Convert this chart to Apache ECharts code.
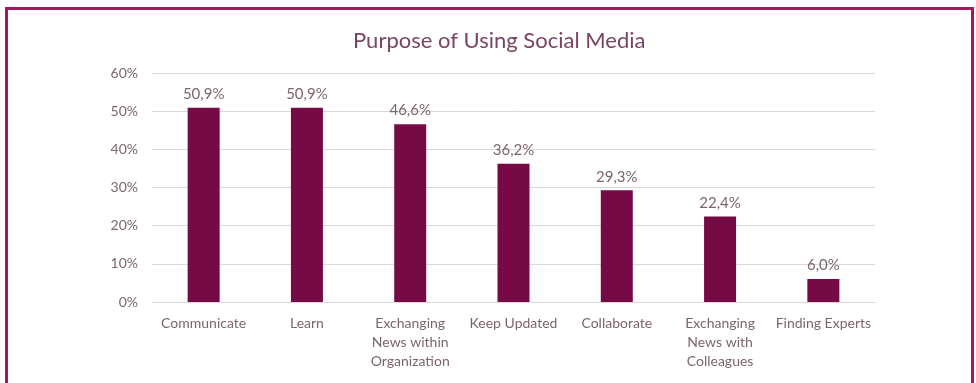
<!DOCTYPE html>
<html lang="en">
  <head>
    <meta charset="utf-8" />
    <title>Purpose of Using Social Media</title>
    <script src="https://cdn.jsdelivr.net/npm/echarts@6/dist/echarts.min.js"></script>
  </head>
  <style>
    * {
      margin: 0;
      padding: 0;
    }

    body {
      width: 976px;
      height: 383px;
      background: #fff;
      position: relative;
      overflow: hidden;
    }

    .frame {
      position: absolute;
      left: 5px;
      top: 7px;
      width: 963px;
      height: 390px;
      border: 3px solid #a2195f;
      box-sizing: content-box;
    }

    #main {
      position: absolute;
      left: 0;
      top: 0;
      width: 976px;
      height: 383px;
    }
  </style>
  <body>
    <div class="frame"></div>
    <div id="main"></div>
    <script>
      const categories = [
        "Communicate",
        "Learn",
        "Exchanging\nNews within\nOrganization",
        "Keep Updated",
        "Collaborate",
        "Exchanging\nNews with\nColleagues",
        "Finding Experts",
      ];
      const values = [50.9, 50.9, 46.6, 36.2, 29.3, 22.4, 6.0];
      const yTicks = [0, 10, 20, 30, 40, 50, 60];

      const textColor = "#7d6470";
      const font = "Lato, 'Open Sans', sans-serif";

      const chart = echarts.init(document.getElementById("main"), null, {
        renderer: "canvas",
      });

      const option = {
        animation: false,
        title: {
          text: "Purpose of Using Social Media",
          left: 348,
          top: 25,
          textStyle: {
            color: "#7a4563",
            fontFamily: font,
            fontSize: 22,
            fontWeight: "normal",
          },
        },
        grid: {
          left: 152,
          right: 101,
          top: 73,
          bottom: 81,
        },
        xAxis: {
          type: "category",
          data: categories,
          axisTick: { show: false },
          axisLine: { lineStyle: { color: "#d9d9d9" } },
          axisLabel: {
            color: textColor,
            fontFamily: font,
            fontSize: 14,
            lineHeight: 19,
            margin: 12,
            interval: 0,
          },
        },
        yAxis: {
          type: "value",
          min: yTicks[0],
          max: yTicks[yTicks.length - 1],
          interval: 10,
          axisLine: { show: false },
          axisTick: { show: false },
          splitLine: { lineStyle: { color: "#d9d9d9" } },
          axisLabel: {
            color: textColor,
            fontFamily: font,
            fontSize: 14,
            margin: 14,
            formatter: (v) => v + "%",
          },
        },
        series: [
          {
            type: "bar",
            data: values,
            barWidth: 32,
            itemStyle: { color: "#760a44" },
            label: {
              show: true,
              position: "top",
              distance: 6,
              color: textColor,
              fontFamily: font,
              fontSize: 15,
              formatter: (p) => p.value.toFixed(1).replace(".", ",") + "%",
            },
          },
        ],
      };

      chart.setOption(option);
    </script>
  </body>
</html>
